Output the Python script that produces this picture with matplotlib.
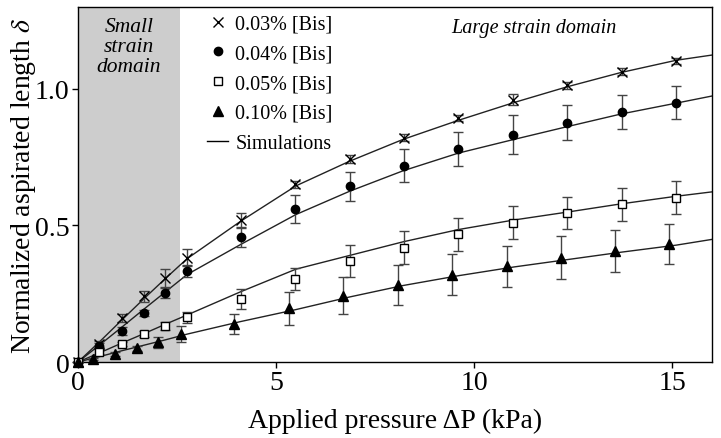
import matplotlib
matplotlib.use("Agg")
import matplotlib.pyplot as plt
from matplotlib.lines import Line2D

plt.rcParams['font.family'] = ['Liberation Serif', 'DejaVu Serif']
plt.rcParams['mathtext.fontset'] = 'stix'

# 测量点 (kPa)
P_a = [0, 0.54, 1.10, 1.66, 2.19, 2.74, 4.11, 5.47, 6.86, 8.23, 9.59, 10.97, 12.34, 13.72, 15.10]
P_b = [0, 0.37, 0.93, 1.48, 2.03, 2.60, 3.94, 5.33, 6.70, 8.07, 9.44, 10.82, 12.19, 13.56, 14.92]

d03 = [0, 0.066, 0.160, 0.240, 0.307, 0.382, 0.519, 0.650, 0.743, 0.822, 0.893, 0.960, 1.013, 1.063, 1.103]
e03 = [0, 0.012, 0.015, 0.020, 0.035, 0.030, 0.025, 0.012, 0.015, 0.012, 0.012, 0.020, 0.012, 0.012, 0.012]
d04 = [0, 0.060, 0.114, 0.179, 0.254, 0.333, 0.456, 0.561, 0.643, 0.719, 0.780, 0.832, 0.877, 0.915, 0.950]
e04 = [0, 0.010, 0.015, 0.012, 0.020, 0.022, 0.035, 0.052, 0.053, 0.060, 0.061, 0.071, 0.065, 0.061, 0.061]
d05 = [0, 0.038, 0.066, 0.102, 0.133, 0.163, 0.230, 0.305, 0.370, 0.419, 0.467, 0.510, 0.546, 0.577, 0.601]
e05 = [0, 0.008, 0.008, 0.010, 0.015, 0.020, 0.036, 0.041, 0.058, 0.059, 0.061, 0.061, 0.060, 0.059, 0.060]
d10 = [0, 0.011, 0.029, 0.050, 0.072, 0.102, 0.139, 0.196, 0.242, 0.282, 0.319, 0.351, 0.382, 0.406, 0.431]
e10 = [0, 0.004, 0.006, 0.010, 0.020, 0.029, 0.036, 0.062, 0.068, 0.075, 0.075, 0.075, 0.078, 0.077, 0.073]

# 模拟曲线
SIM_P = [0, 0.55, 1.1, 1.65, 2.2, 2.75, 4.1, 5.5, 6.85, 8.2, 9.6, 11.0, 12.35, 13.7, 15.1, 16.0]
sim03 = [0, 0.075, 0.153, 0.230, 0.305, 0.378, 0.515, 0.645, 0.735, 0.815, 0.885, 0.950, 1.008, 1.060, 1.105, 1.124]
sim04 = [0, 0.063, 0.127, 0.192, 0.256, 0.320, 0.430, 0.540, 0.625, 0.700, 0.765, 0.815, 0.862, 0.908, 0.948, 0.974]
sim05 = [0, 0.034, 0.069, 0.103, 0.138, 0.172, 0.257, 0.340, 0.390, 0.440, 0.485, 0.520, 0.549, 0.579, 0.607, 0.623]
sim10 = [0, 0.020, 0.041, 0.061, 0.081, 0.102, 0.148, 0.192, 0.238, 0.280, 0.316, 0.348, 0.375, 0.402, 0.428, 0.449]

SMALL_LIMIT = 2.57

fig = plt.figure(figsize=(7.21, 4.39), dpi=100)
ax = fig.add_axes([0.1082, 0.1731, 0.8793, 0.8087])

ax.axvspan(0, SMALL_LIMIT, color='#cdcdcd', lw=0, zorder=0)

for s in (sim03, sim04, sim05, sim10):
    ax.plot(SIM_P, s, color='#222222', lw=1.0, zorder=2)

ekw = dict(ecolor='#444444', elinewidth=1.0, capsize=3.5, capthick=1.0, ls='none', zorder=3, clip_on=False)
ax.errorbar(P_a, d03, yerr=e03, marker='x', ms=7, mew=1.0, mec='black', **ekw)
ax.errorbar(P_a, d04, yerr=e04, marker='o', ms=6, mfc='black', mec='black', **ekw)
ax.errorbar(P_a, d05, yerr=e05, marker='s', ms=6, mfc='white', mec='black', mew=1.0, **ekw)
ax.errorbar(P_b, d10, yerr=e10, marker='^', ms=6.5, mfc='black', mec='black', **ekw)

ax.set_xlim(0, 16)
ax.set_ylim(0, 1.3)
ax.set_xticks([0, 5, 10, 15])
ax.set_xticklabels(['0', '5', '10', '15'])
ax.set_yticks([0, 0.5, 1.0])
ax.set_yticklabels(['0', '0.5', '1.0'])
ax.tick_params(direction='out', length=4, width=1, labelsize=20, pad=2)
for sp in ax.spines.values():
    sp.set_linewidth(1.0)

ax.set_xlabel('Applied pressure ΔP (kPa)', fontsize=20, labelpad=9)
ax.set_ylabel('Normalized aspirated length $\\delta$', fontsize=20, labelpad=-2)

ax.text(SMALL_LIMIT / 2, 1.265, 'Small\nstrain\ndomain', ha='center', va='top',
        fontsize=15.5, style='italic', linespacing=1.1)
ax.text(11.5, 1.258, 'Large strain domain', ha='center', va='top',
        fontsize=14.5, style='italic')

handles = [
    Line2D([], [], ls='none', marker='x', ms=7, mew=1.0, color='black'),
    Line2D([], [], ls='none', marker='o', ms=6, color='black'),
    Line2D([], [], ls='none', marker='s', ms=6, mfc='white', mec='black', mew=1.0),
    Line2D([], [], ls='none', marker='^', ms=6.5, color='black'),
    Line2D([], [], color='black', lw=1.0),
]
labels = ['0.03% [Bis]', '0.04% [Bis]', '0.05% [Bis]', '0.10% [Bis]', 'Simulations']
ax.legend(handles, labels, loc='upper left', bbox_to_anchor=(0.197, 0.99), frameon=False,
          fontsize=14.5, handlelength=1.05, handletextpad=0.35, labelspacing=0.53,
          borderaxespad=0, borderpad=0.2)

fig.savefig('out.png', dpi=100)
